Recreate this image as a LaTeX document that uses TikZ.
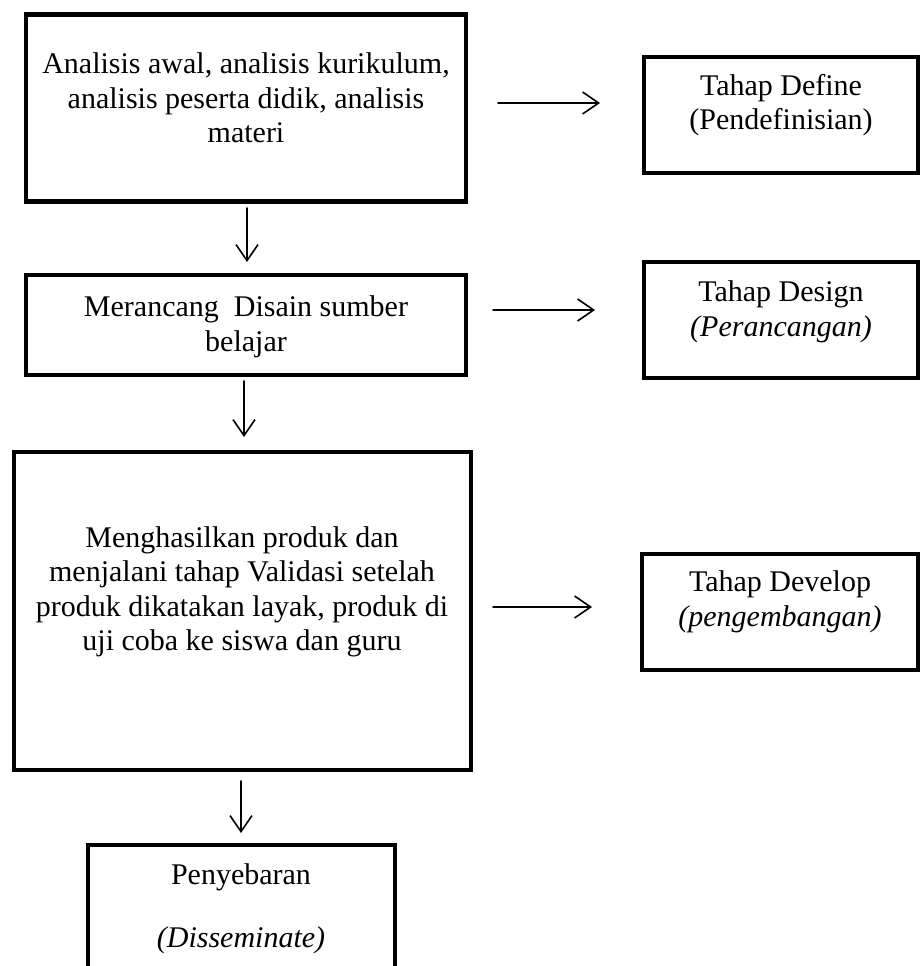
\documentclass[tikz,border=0pt]{standalone}
\usepackage{fontspec}
\setmainfont{Liberation Serif}
\usetikzlibrary{arrows.meta}
\tikzset{
  boxframe/.style={draw=black, line width=4.5pt, inner sep=0pt},
  txt/.style={align=center, inner sep=0pt, font=\fontsize{30}{34.5}\selectfont},
  flow/.style={-{Straight Barb[length=16pt,width=22pt]}, line width=1.6pt, line cap=round}
}
\begin{document}
\begin{tikzpicture}[x=1pt,y=-1pt]
\useasboundingbox (0,0) rectangle (922,966);
\clip (0,0) rectangle (922,966);
% left column boxes
\node[boxframe, minimum width=440pt, minimum height=187pt] (b1) at (246,108) {};
\node[boxframe, minimum width=440pt, minimum height=100pt] (b2) at (246,325) {};
\node[boxframe, minimum width=457pt, minimum height=318pt] (b3) at (242.5,611) {};
\node[boxframe, minimum width=307pt, minimum height=200pt] (b4) at (241.5,945) {};
% right column boxes
\node[boxframe, minimum width=274pt, minimum height=116pt] (r1) at (781,115) {};
\node[boxframe, minimum width=274pt, minimum height=116pt] (r2) at (781,320) {};
\node[boxframe, minimum width=276pt, minimum height=116pt] (r3) at (780,612) {};
% texts
\node[txt] (t1) at (246,98) {Analisis awal, analisis kurikulum,\\analisis peserta didik, analisis\\materi};
\node[txt] (t2) at (246,327) {Merancang\ \ Disain sumber\\belajar};
\node[txt] (t3) at (242,592) {Menghasilkan produk dan\\menjalani tahap Validasi setelah\\produk dikatakan layak, produk di\\uji coba ke siswa dan guru};
\node[txt] (t4) at (241,909) {Penyebaran\\[28pt]\textit{(Disseminate)}};
\node[txt] (u1) at (781,105) {Tahap Define\\(Pendefinisian)};
\node[txt] (u2) at (781,312) {Tahap Design\\\textit{(Perancangan)}};
\node[txt] (u3) at (780,602) {Tahap Develop\\\textit{(pengembangan)}};
% arrow end points
\coordinate (a1s) at (247,208); \coordinate (a1e) at (247,262);
\coordinate (a2s) at (244,381); \coordinate (a2e) at (244,437);
\coordinate (a3s) at (241,781); \coordinate (a3e) at (241,833);
\coordinate (h1s) at (498,103); \coordinate (h1e) at (600,103);
\coordinate (h2s) at (493,310); \coordinate (h2e) at (595,310);
\coordinate (h3s) at (493,607); \coordinate (h3e) at (592,607);
\draw[flow] (a1s) -- (a1e);
\draw[flow] (a2s) -- (a2e);
\draw[flow] (a3s) -- (a3e);
\draw[flow] (h1s) -- (h1e);
\draw[flow] (h2s) -- (h2e);
\draw[flow] (h3s) -- (h3e);
\end{tikzpicture}
\end{document}
